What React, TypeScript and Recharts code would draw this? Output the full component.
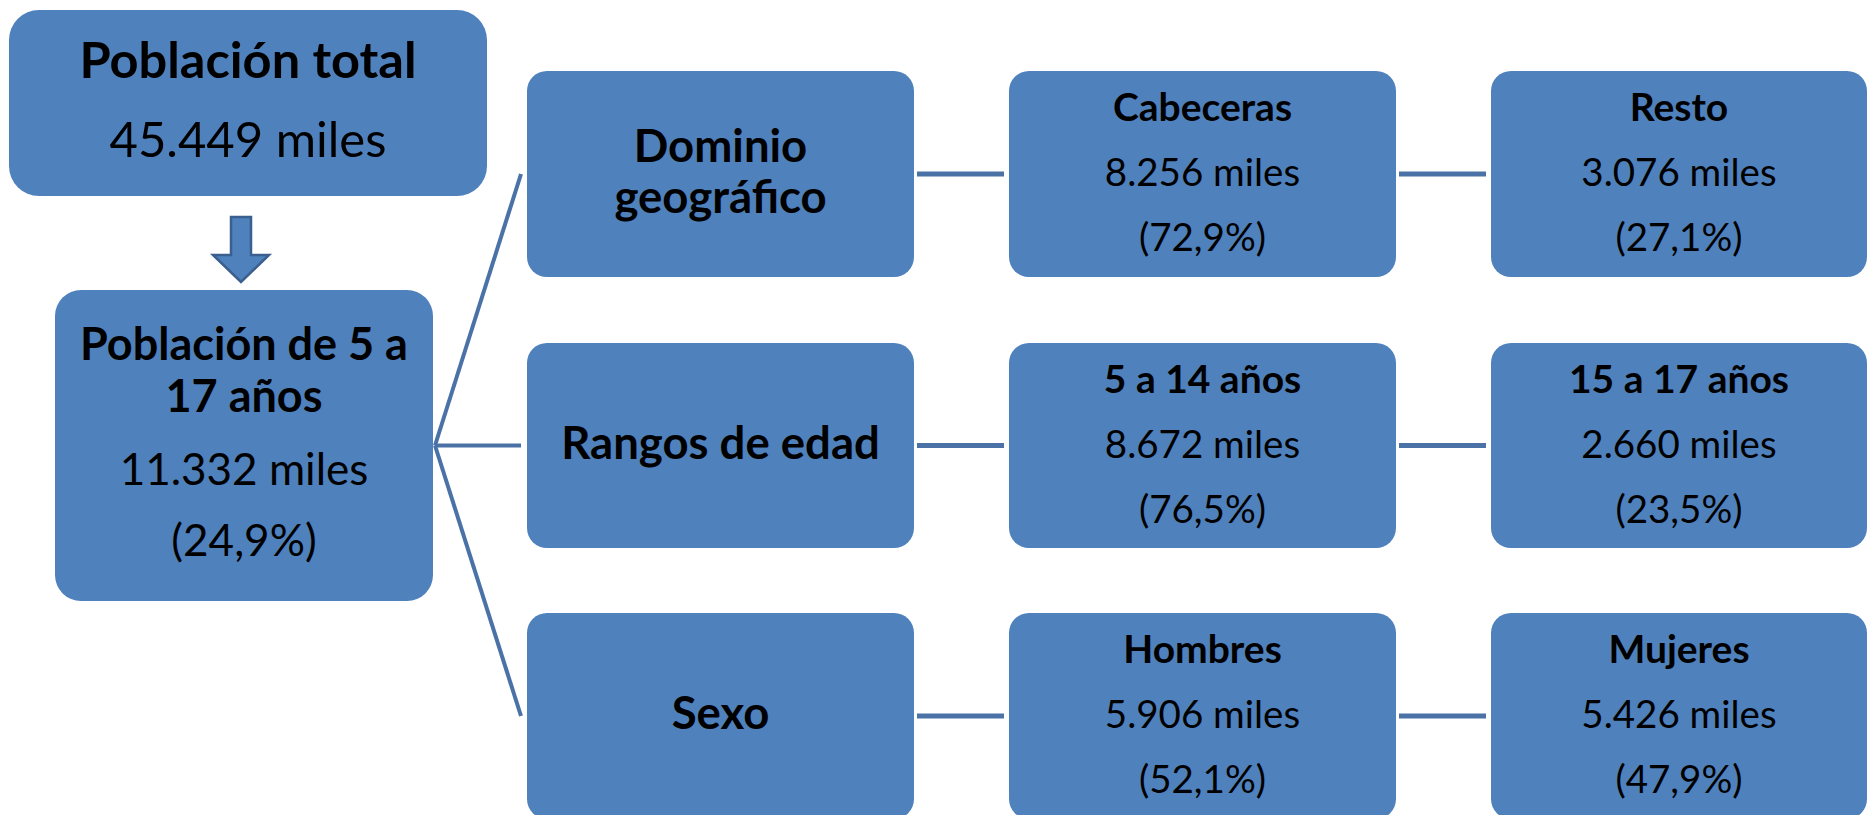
import React from "react";
import { ScatterChart, Scatter, XAxis, YAxis, ReferenceLine } from "recharts";

const W = 1868;
const H = 815;

// values
const titles = [
  "Población total",
  "Población de 5 a\n17 años",
  "Dominio\ngeográfico",
  "Rangos de edad",
  "Sexo",
  "Cabeceras",
  "Resto",
  "5 a 14 años",
  "15 a 17 años",
  "Hombres",
  "Mujeres",
];
const miles = [45449, 11332, null, null, null, 8256, 3076, 8672, 2660, 5906, 5426];
const shares = [null, 24.9, null, null, null, 72.9, 27.1, 76.5, 23.5, 52.1, 47.9];
const kinds = ["top", "main", "group", "group", "group", "leaf", "leaf", "leaf", "leaf", "leaf", "leaf"];

// layout (pixels): x0, y0, x1, y1
const boxes = [
  [9, 10, 487, 196],
  [55, 290, 433, 601],
  [527, 71, 914, 277],
  [527, 343, 914, 548],
  [527, 613, 914, 819],
  [1009, 71, 1396, 277],
  [1491, 71, 1867, 277],
  [1009, 343, 1396, 548],
  [1491, 343, 1867, 548],
  [1009, 613, 1396, 819],
  [1491, 613, 1867, 819],
];

const FILL = "#4F81BD";
const LINE = "#4A72A6";
const FONT = "Lato, 'Open Sans', sans-serif";

const STYLE: Record<string, any> = {
  top: { r: 30, tsize: 50.5, vsize: 49, title: [68], value: 147, share: 0 },
  main: { r: 26, tsize: 45, vsize: 44, title: [70, 122], value: 195, share: 266 },
  group: { r: 20, tsize: 45.5, vsize: 44, title: [116], title2: [91, 142] },
  leaf: { r: 20, tsize: 39, vsize: 38.5, title: [50], value: 115, share: 180 },
};

const fmtMiles = (n: number) => {
  const k = Math.floor(n / 1000);
  const rest = String(n % 1000).padStart(3, "0");
  return `${k}.${rest} miles`;
};
const fmtShare = (p: number) => `(${p.toFixed(1).replace(".", ",")}%)`;

const nodes = titles.map((t, i) => {
  const [x0, y0, x1, y1] = boxes[i];
  return {
    x: (x0 + x1) / 2,
    y: (y0 + y1) / 2,
    w: x1 - x0,
    h: y1 - y0,
    kind: kinds[i],
    title: t,
    value: miles[i],
    share: shares[i],
  };
});

const mid = (i: number) => (boxes[i][1] + boxes[i][3]) / 2;
const fanFrom = { x: boxes[1][2] + 2, y: mid(1) };
const fan = [2, 3, 4].map((i) => [fanFrom, { x: boxes[i][0] - 6, y: mid(i) }]);
const links = [
  [2, 5],
  [5, 6],
  [3, 7],
  [7, 8],
  [4, 9],
  [9, 10],
].map(([a, b]) => [
  { x: boxes[a][2] + 3, y: mid(a) },
  { x: boxes[b][0] - 5, y: mid(a) },
]);

const arrow = [{ x: 241, y: 249 }];

const NodeShape = (props: any) => {
  const { cx, cy, payload } = props;
  const { w, h, kind, title, value, share } = payload;
  const st = STYLE[kind];
  const x = cx - w / 2;
  const y = cy - h / 2;
  const lines = title.split("\n");
  const offs = lines.length > 1 && st.title2 ? st.title2 : st.title;
  return (
    <g>
      <rect x={x} y={y} width={w} height={h} rx={st.r} ry={st.r} fill={FILL} />
      {lines.map((l: string, i: number) => (
        <text key={i} x={cx} y={y + offs[i]} textAnchor="middle" fontFamily={FONT}
          fontWeight="bold" fontSize={st.tsize} fill="#000">{l}</text>
      ))}
      {value != null && (
        <text x={cx} y={y + st.value} textAnchor="middle" fontFamily={FONT}
          fontSize={st.vsize} fill="#000">{fmtMiles(value)}</text>
      )}
      {share != null && (
        <text x={cx} y={y + st.share} textAnchor="middle" fontFamily={FONT}
          fontSize={st.vsize} fill="#000">{fmtShare(share)}</text>
      )}
    </g>
  );
};

const ArrowShape = (props: any) => {
  const { cx, cy } = props;
  // shaft 21 wide, head 57 wide, total height 65
  const top = cy - 32, base = cy + 6, tip = cy + 33;
  const pts = [
    [cx - 10, top], [cx + 10, top], [cx + 10, base], [cx + 28, base],
    [cx, tip], [cx - 28, base], [cx - 10, base],
  ].map((p) => p.join(",")).join(" ");
  return <polygon points={pts} fill={FILL} stroke="#3B5F8E" strokeWidth={2.5} strokeLinejoin="miter" />;
};

const App = () => {
  return (
    <div style={{ position: "fixed", left: 0, top: 0, width: W, height: H, background: "#fff" }}>
      <ScatterChart width={W} height={H} margin={{ top: 0, right: 0, bottom: 0, left: 0 }}>
        <XAxis type="number" dataKey="x" domain={[0, W]} hide />
        <YAxis type="number" dataKey="y" domain={[0, H]} reversed hide />
        {fan.map((s, i) => (
          <ReferenceLine key={"f" + i} segment={s} stroke={LINE} strokeWidth={4} ifOverflow="visible" />
        ))}
        {links.map((s, i) => (
          <ReferenceLine key={"l" + i} segment={s} stroke={LINE} strokeWidth={5} ifOverflow="visible" />
        ))}
        <Scatter data={arrow} shape={<ArrowShape />} isAnimationActive={false} />
        <Scatter data={nodes} shape={<NodeShape />} isAnimationActive={false} />
      </ScatterChart>
    </div>
  );
};

export default App;
